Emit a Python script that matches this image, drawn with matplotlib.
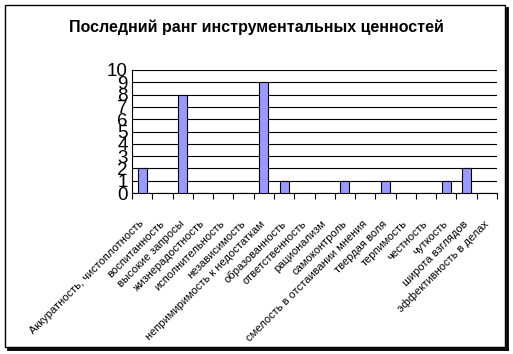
import matplotlib
matplotlib.use("Agg")
import matplotlib.pyplot as plt
from matplotlib.patches import Rectangle
from matplotlib.lines import Line2D
import numpy as np

plt.rcParams["font.family"] = ["Liberation Sans", "DejaVu Sans"]

title = "Последний ранг инструментальных ценностей"
categories = [
    "Аккуратность, чистоплотность",
    "воспитанность",
    "высокие запросы",
    "жизнерадостность",
    "исполнительность",
    "независимость",
    "непримиримость к недостаткам",
    "образованность",
    "ответственность",
    "рационализм",
    "самоконтроль",
    "смелость в отстаивании мнения",
    "твердая воля",
    "терпимость",
    "честность",
    "чуткость",
    "широта взглядов",
    "эффективность в делах",
]
counts = [2, 0, 8, 0, 0, 0, 9, 1, 0, 0, 1, 0, 1, 0, 0, 1, 2, 0]
yticks = list(range(0, 11))

W, H = 513, 354
fig = plt.figure(figsize=(W / 100, H / 100), dpi=100)

# chart frame with shadow (Excel style)
x0, y0, x1, y1 = 5, 5, 505, 347
fig.patches.append(Rectangle((x0 / W, 1 - y1 / H), (x1 - x0) / W, (y1 - y0) / H,
                             transform=fig.transFigure, fill=False,
                             edgecolor="black", linewidth=1.0))
fig.lines.append(Line2D([(x0 + 3) / W, (x1 + 2) / W], [1 - (y1 + 2) / H] * 2,
                        transform=fig.transFigure, color="black", linewidth=2))
fig.lines.append(Line2D([(x1 + 2) / W] * 2, [1 - (y0 + 3) / H, 1 - (y1 + 2) / H],
                        transform=fig.transFigure, color="black", linewidth=2))

left, right, top, bottom = 132, 497, 70, 193
ax = fig.add_axes([left / W, 1 - bottom / H, (right - left) / W, (bottom - top) / H])

x = np.arange(len(categories))
ax.bar(x, counts, width=0.45, color="#9999FF", edgecolor="black", linewidth=0.8,
       zorder=3)

ax.set_xlim(-0.5, len(categories) - 0.5)
ax.set_ylim(0, 10)
ax.set_yticks(yticks)
ax.set_yticklabels([str(v) for v in yticks], fontsize=13.5)
ax.yaxis.grid(True, color="black", linewidth=0.8)
ax.tick_params(axis="y", length=0, pad=3)

ax.set_xticks(np.arange(len(categories) + 1) - 0.5, minor=True)
ax.set_xticks(x)
ax.set_xticklabels(categories, rotation=45, ha="right", va="center",
                   rotation_mode="anchor", fontsize=8)
ax.tick_params(axis="x", which="major", length=0, pad=21)
ax.tick_params(axis="x", which="minor", length=4, width=0.8, direction="out")

for s in ("top", "right"):
    ax.spines[s].set_visible(False)
ax.spines["left"].set_linewidth(0.8)
ax.spines["bottom"].set_linewidth(0.8)

fig.text(256 / W, 1 - 27 / H, title, ha="center", va="center",
         fontsize=11.5, fontweight="bold")

fig.savefig("out.png", dpi=100)
